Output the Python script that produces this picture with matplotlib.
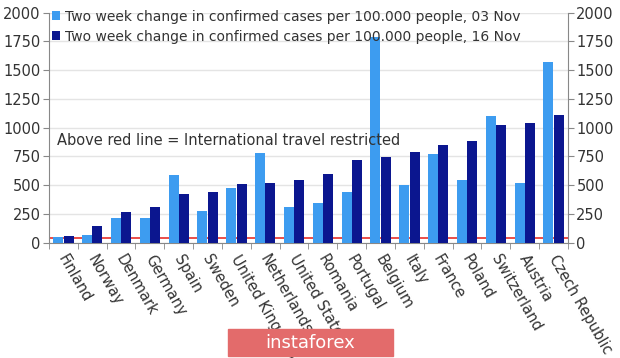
import numpy as np
import matplotlib.pyplot as plt
import matplotlib.transforms as mtrans
from matplotlib.patches import Rectangle

countries = ['Finland', 'Norway', 'Denmark', 'Germany', 'Spain', 'Sweden',
             'United Kingdom', 'Netherlands', 'United States', 'Romania',
             'Portugal', 'Belgium', 'Italy', 'France', 'Poland',
             'Switzerland', 'Austria', 'Czech Republic']
nov03 = [50, 65, 215, 215, 590, 278, 476, 780, 313, 345, 441, 1786, 499,
         771, 543, 1102, 519, 1574]
nov16 = [55, 145, 268, 313, 423, 438, 510, 522, 543, 595, 719, 743, 789,
         847, 882, 1026, 1043, 1113]
red_line = 45

light = '#3d9cf0'
dark = '#0b168f'
txt = '#333333'

fig = plt.figure(figsize=(6.2, 3.58), dpi=100)
ax = fig.add_axes([49 / 620, 1 - 242.7 / 358, 519 / 620, 230 / 358])

x = np.arange(len(countries))
w = 0.35
ax.bar(x - 0.18, nov03, width=w, color=light, zorder=3,
       label='Two week change in confirmed cases per 100.000 people, 03 Nov')
ax.bar(x + 0.18, nov16, width=w, color=dark, zorder=3,
       label='Two week change in confirmed cases per 100.000 people, 16 Nov')
ax.axhline(red_line, color='#e8403a', lw=1.3, zorder=2)

ax.set_xlim(-0.5, len(countries) - 0.5)
ax.set_ylim(0, 2000)
ax.set_yticks(range(0, 2001, 250))
ax.grid(axis='y', color='#e4e4e4', lw=1, zorder=0)
ax.tick_params(axis='y', which='both', left=True, right=True,
               labelleft=True, labelright=True, labelsize=10.5,
               length=4, direction='out', pad=2)
ax.tick_params(axis='y', colors='#888888', labelcolor=txt)

ax.set_xticks(np.arange(len(countries) + 1) - 0.5, minor=True)
ax.set_xticks(x)
ax.set_xticklabels(countries, rotation=-60, ha='left', va='top',
                   rotation_mode='anchor', fontsize=10.5, color=txt)
ax.tick_params(axis='x', which='major', length=0, pad=7)
ax.tick_params(axis='x', which='minor', length=4, color='#888888')
shift = mtrans.ScaledTranslation(5 / 100, 0, fig.dpi_scale_trans)
for lab in ax.get_xticklabels():
    lab.set_transform(lab.get_transform() + shift)

for s in ['left', 'right', 'bottom']:
    ax.spines[s].set_color('#888888')
ax.spines['top'].set_visible(False)

leg = ax.legend(loc='upper left', bbox_to_anchor=(-0.01, 1.05), frameon=False,
                fontsize=10, handlelength=0.6, handleheight=0.6,
                handletextpad=0.3, labelspacing=0.45, borderaxespad=0.2)
for t in leg.get_texts():
    t.set_color(txt)

ax.text(-0.22, 890, 'Above red line = International travel restricted',
        fontsize=10.5, color=txt, va='center', zorder=4)

# watermark
fig.patches.append(Rectangle((228 / 620, 2 / 358), 165 / 620, 27 / 358,
                             transform=fig.transFigure, color='#e36b6b',
                             zorder=5))
fig.text(310 / 620, 15.5 / 358, 'instaforex', color='white', fontsize=13,
         ha='center', va='center', zorder=6)

fig.savefig('out.png', dpi=100)
